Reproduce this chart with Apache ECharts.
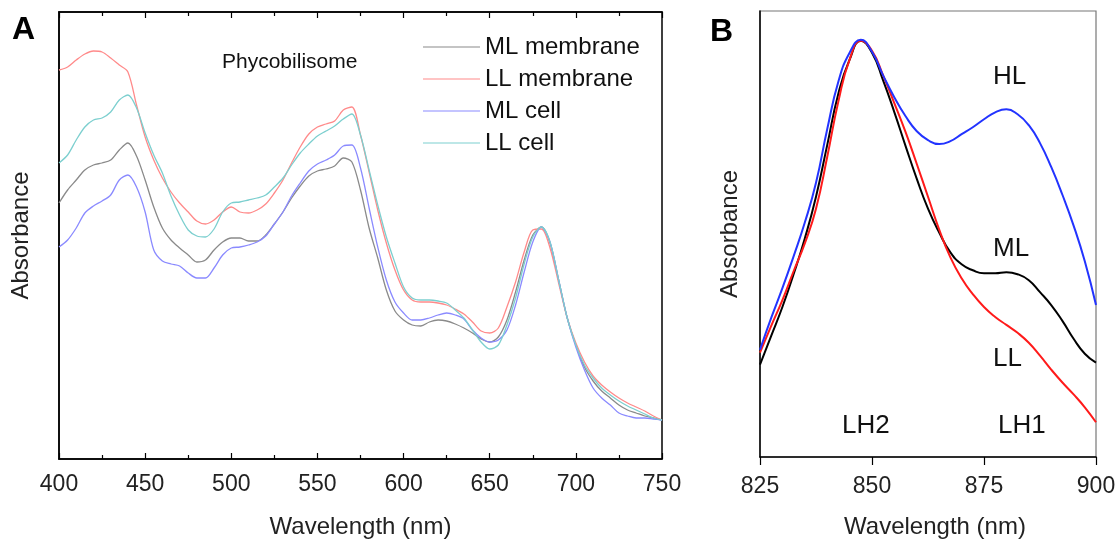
<!DOCTYPE html>
<html>
<head>
<meta charset="utf-8">
<script src="https://cdn.jsdelivr.net/npm/echarts@6/dist/echarts.min.js"></script>
<style>
  html, body { margin: 0; padding: 0; background: #fff; }
  #chart { width: 1120px; height: 544px; }
</style>
</head>
<body>
<div id="chart"></div>
<script>
// panel A: wavelength grid (nm) and absorbance (arb. units)
var wlA = [400,405,410,415,420,425,430,435,440,445,450,455,460,465,470,475,480,485,490,495,
           500,505,510,515,520,525,530,535,540,545,550,555,560,565,570,575,580,585,590,595,
           600,605,610,615,620,625,630,635,640,645,650,655,660,665,670,675,680,685,690,695,
           700,705,710,715,720,725,730,735,740,745,750];
var mlMembrane = [2.56,2.69,2.79,2.89,2.94,2.96,2.99,3.09,3.16,3.03,2.79,2.52,2.31,2.19,2.11,2.04,1.97,1.99,2.09,2.17,
                  2.21,2.21,2.18,2.18,2.24,2.35,2.47,2.61,2.73,2.83,2.88,2.90,2.93,3.01,2.97,2.69,2.31,2.01,1.69,1.48,
                  1.39,1.34,1.33,1.37,1.39,1.38,1.35,1.31,1.26,1.20,1.17,1.22,1.39,1.67,1.99,2.24,2.32,2.16,1.79,1.41,
                  1.14,0.92,0.78,0.68,0.61,0.54,0.49,0.46,0.43,0.41,0.39];
var llMembrane = [3.89,3.92,3.99,4.05,4.08,4.07,4.01,3.94,3.87,3.54,3.22,2.99,2.81,2.67,2.56,2.47,2.38,2.35,2.39,2.47,
                  2.52,2.47,2.46,2.49,2.55,2.66,2.79,2.96,3.12,3.25,3.32,3.35,3.38,3.49,3.52,3.24,2.87,2.49,2.16,1.89,
                  1.69,1.59,1.57,1.57,1.56,1.54,1.50,1.45,1.37,1.28,1.26,1.31,1.52,1.77,2.07,2.29,2.30,2.11,1.76,1.41,
                  1.16,0.97,0.83,0.74,0.67,0.61,0.56,0.52,0.48,0.43,0.39];
var mlCell = [2.12,2.19,2.31,2.46,2.53,2.58,2.64,2.79,2.84,2.72,2.47,2.09,1.98,1.95,1.93,1.86,1.81,1.81,1.91,2.04,
              2.11,2.12,2.14,2.17,2.23,2.35,2.47,2.63,2.76,2.88,2.95,2.99,3.04,3.13,3.14,2.91,2.51,2.12,1.79,1.57,
              1.46,1.39,1.39,1.41,1.44,1.46,1.44,1.40,1.29,1.21,1.17,1.19,1.29,1.54,1.87,2.17,2.32,2.17,1.79,1.41,
              1.12,0.89,0.71,0.61,0.54,0.46,0.43,0.41,0.41,0.40,0.39];
var llCell = [2.96,3.04,3.19,3.32,3.39,3.41,3.47,3.59,3.64,3.51,3.26,3.04,2.86,2.63,2.44,2.29,2.23,2.22,2.30,2.47,
              2.56,2.57,2.59,2.61,2.64,2.72,2.81,2.94,3.06,3.15,3.23,3.28,3.33,3.40,3.45,3.24,2.89,2.54,2.22,1.96,
              1.72,1.61,1.59,1.59,1.58,1.56,1.49,1.41,1.29,1.17,1.10,1.14,1.34,1.61,1.95,2.22,2.32,2.17,1.79,1.41,
              1.14,0.94,0.81,0.71,0.64,0.58,0.53,0.49,0.45,0.41,0.39];

// panel B: near-IR bands
var wlB = [825,827.5,830,832.5,835,837.5,840,842.5,845,847.5,850,852.5,855,857.5,860,862.5,
           865,867.5,870,872.5,875,877.5,880,882.5,885,887.5,890,892.5,895,897.5,900];
var hl = [1.08,1.40,1.70,2.02,2.36,2.76,3.30,3.78,4.07,4.20,4.08,3.84,3.62,3.43,3.28,3.19,
          3.15,3.18,3.25,3.32,3.40,3.47,3.50,3.45,3.34,3.16,2.92,2.64,2.33,1.97,1.53];
var ml = [0.93,1.22,1.51,1.84,2.20,2.62,3.14,3.66,4.00,4.19,4.07,3.79,3.47,3.13,2.80,2.50,
          2.26,2.06,1.94,1.88,1.85,1.85,1.86,1.84,1.78,1.66,1.53,1.37,1.19,1.04,0.95];
var ll = [1.05,1.32,1.58,1.87,2.15,2.50,3.02,3.58,4.00,4.19,4.09,3.84,3.56,3.27,2.95,2.62,
          2.29,2.01,1.80,1.64,1.51,1.41,1.33,1.25,1.15,1.02,0.88,0.75,0.63,0.50,0.35];

var ticksA = [400,450,500,550,600,650,700,750];
var ticksB = [825,850,875,900];
var legendNames = ['ML membrane','LL membrane','ML cell','LL cell'];

function pairs(xs, ys) {
    var out = [];
    for (var i = 0; i < xs.length; i++) out.push([xs[i], ys[i]]);
    return out;
}

var font = 'Liberation Sans, Arial, sans-serif';

var myChart = echarts.init(document.getElementById('chart'));
var option = {
    animation: false,
    textStyle: { fontFamily: font },
    grid: [
        { left: 59, top: 12, width: 603, height: 447, show: true, borderColor: '#000', borderWidth: 1.5 },
        { left: 760, top: 11, width: 336, height: 449, show: true, borderColor: '#777', borderWidth: 1.2 }
    ],
    legend: {
        orient: 'vertical',
        left: 418,
        top: 30,
        icon: 'rect',
        itemWidth: 57,
        itemHeight: 1.2,
        itemGap: 8,
        textStyle: { fontSize: 24, color: '#111', lineHeight: 24, fontFamily: font },
        data: legendNames
    },
    xAxis: [
        {
            type: 'value', gridIndex: 0, min: 400, max: 750, interval: 50,
            name: 'Wavelength (nm)', nameLocation: 'middle', nameGap: 56,
            nameTextStyle: { fontSize: 24, color: '#222' },
            axisLine: { lineStyle: { color: '#000', width: 1.5 } },
            axisTick: { inside: true, length: 6, lineStyle: { color: '#000', width: 1.2 } },
            minorTick: { show: true, splitNumber: 2, length: 4, lineStyle: { color: '#000', width: 1.2 } },
            axisLabel: { fontSize: 23, color: '#222', margin: 14 },
            splitLine: { show: false }
        },
        {
            type: 'value', gridIndex: 0, min: 400, max: 750, interval: 50, position: 'top',
            axisLine: { show: true, lineStyle: { color: '#000', width: 1.5 } },
            axisTick: { inside: true, length: 6, lineStyle: { color: '#000', width: 1.2 } },
            minorTick: { show: true, splitNumber: 2, length: 4, lineStyle: { color: '#000', width: 1.2 } },
            axisLabel: { show: false },
            splitLine: { show: false }
        },
        {
            type: 'value', gridIndex: 1, min: 825, max: 900, interval: 25,
            name: 'Wavelength (nm)', nameLocation: 'middle', nameGap: 58,
            nameTextStyle: { fontSize: 24, color: '#222', padding: [0, 0, 0, 14] },
            axisLine: { lineStyle: { color: '#000', width: 1.5 } },
            axisTick: { length: 8, lineStyle: { color: '#000', width: 1.2 } },
            axisLabel: { fontSize: 23, color: '#222', margin: 18 },
            splitLine: { show: false }
        }
    ],
    yAxis: [
        {
            type: 'value', gridIndex: 0, min: 0, max: 4.47,
            name: 'Absorbance', nameLocation: 'middle', nameGap: 26,
            nameTextStyle: { fontSize: 24, color: '#222' },
            axisLine: { show: true, lineStyle: { color: '#000', width: 1.5 } },
            axisTick: { show: false }, axisLabel: { show: false }, splitLine: { show: false }
        },
        {
            type: 'value', gridIndex: 1, min: 0, max: 4.49,
            name: 'Absorbance', nameLocation: 'middle', nameGap: 18,
            nameTextStyle: { fontSize: 24, color: '#222' },
            axisLine: { show: true, lineStyle: { color: '#000', width: 1.5 } },
            axisTick: { show: false }, axisLabel: { show: false }, splitLine: { show: false }
        }
    ],
    graphic: [
        { type: 'text', left: 12, top: 14, style: { text: 'A', font: 'bold 32px ' + font, fill: '#000' } },
        { type: 'text', left: 710, top: 16, style: { text: 'B', font: 'bold 32px ' + font, fill: '#000' } },
        { type: 'text', left: 222, top: 52, style: { text: 'Phycobilisome', font: '21px ' + font, fill: '#111' } },
        { type: 'text', left: 993, top: 64, style: { text: 'HL', font: '26px ' + font, fill: '#111' } },
        { type: 'text', left: 993, top: 236, style: { text: 'ML', font: '26px ' + font, fill: '#111' } },
        { type: 'text', left: 993, top: 346, style: { text: 'LL', font: '26px ' + font, fill: '#111' } },
        { type: 'text', left: 842, top: 413, style: { text: 'LH2', font: '26px ' + font, fill: '#111' } },
        { type: 'text', left: 998, top: 413, style: { text: 'LH1', font: '26px ' + font, fill: '#111' } }
    ],
    series: [
        { name: 'ML membrane', type: 'line', xAxisIndex: 0, yAxisIndex: 0, data: pairs(wlA, mlMembrane),
          showSymbol: false, smooth: 0.3, color: '#8a8a8a', lineStyle: { width: 1.3 } },
        { name: 'LL membrane', type: 'line', xAxisIndex: 0, yAxisIndex: 0, data: pairs(wlA, llMembrane),
          showSymbol: false, smooth: 0.3, color: '#ff8a8a', lineStyle: { width: 1.3 } },
        { name: 'ML cell', type: 'line', xAxisIndex: 0, yAxisIndex: 0, data: pairs(wlA, mlCell),
          showSymbol: false, smooth: 0.3, color: '#8a8aff', lineStyle: { width: 1.3 } },
        { name: 'LL cell', type: 'line', xAxisIndex: 0, yAxisIndex: 0, data: pairs(wlA, llCell),
          showSymbol: false, smooth: 0.3, color: '#7ccfcf', lineStyle: { width: 1.3 } },
        { name: 'ML', type: 'line', xAxisIndex: 2, yAxisIndex: 1, data: pairs(wlB, ml),
          showSymbol: false, smooth: 0.5, color: '#000', lineStyle: { width: 2 } },
        { name: 'LL', type: 'line', xAxisIndex: 2, yAxisIndex: 1, data: pairs(wlB, ll),
          showSymbol: false, smooth: 0.5, color: '#ff1a1a', lineStyle: { width: 2 } },
        { name: 'HL', type: 'line', xAxisIndex: 2, yAxisIndex: 1, data: pairs(wlB, hl),
          showSymbol: false, smooth: 0.5, color: '#2233ff', lineStyle: { width: 2 } }
    ]
};
myChart.setOption(option);
</script>
</body>
</html>
